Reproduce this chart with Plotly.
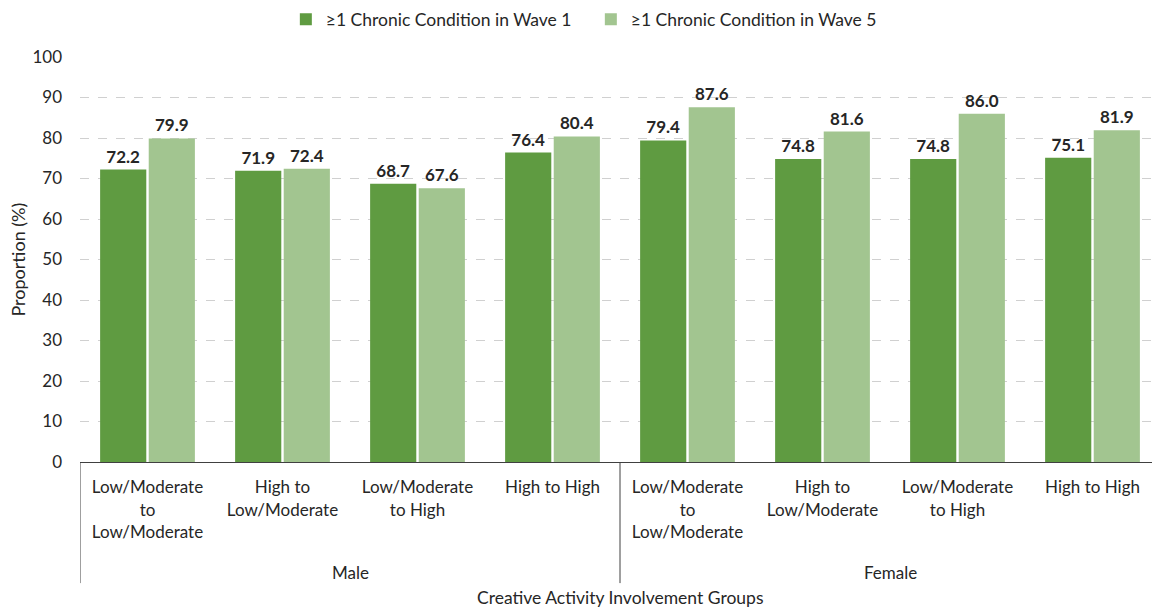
import plotly.graph_objects as go

genders = ["Male"] * 4 + ["Female"] * 4
groups = [
    "Low/Moderate<br>to<br>Low/Moderate",
    "High to<br>Low/Moderate",
    "Low/Moderate<br>to High",
    "High to High",
] * 2
wave1 = [72.2, 71.9, 68.7, 76.4, 79.4, 74.8, 74.8, 75.1]
wave5 = [79.9, 72.4, 67.6, 80.4, 87.6, 81.6, 86.0, 81.9]
series_names = ["≥1 Chronic Condition in Wave 1", "≥1 Chronic Condition in Wave 5"]
colors = ["#5f9b41", "#a2c590"]
y_title = "Proportion (%)"
x_title = "Creative Activity Involvement Groups"

FONT = "Lato"
TXT = "#262626"
xs = list(range(len(groups)))

fig = go.Figure()
for name, vals, col in zip(series_names, [wave1, wave5], colors):
    fig.add_trace(go.Bar(
        x=xs, y=vals, name=name,
        marker=dict(color=col, line=dict(width=0)),
        texttemplate="<b>%{y:.1f}</b>", textposition="outside",
        textfont=dict(family=FONT, size=17, color=TXT),
        cliponaxis=False,
    ))

# gender group labels and dividers
div_y = -0.299
boundaries = [-0.5]
for i in range(1, len(genders)):
    if genders[i] != genders[i - 1]:
        boundaries.append(i - 0.5)
boundaries.append(len(genders) - 0.5)
for b in boundaries:
    fig.add_shape(type="line", xref="x", yref="paper", x0=b, x1=b, y0=0, y1=div_y,
                  line=dict(color="#404040", width=1))
seen = []
for g in genders:
    if g not in seen:
        seen.append(g)
for g in seen:
    idx = [i for i, v in enumerate(genders) if v == g]
    fig.add_annotation(x=sum(idx) / len(idx), y=-0.272, xref="x", yref="paper",
                       text=g, showarrow=False, yanchor="middle",
                       font=dict(family=FONT, size=17, color=TXT))

fig.add_annotation(x=0.5, y=-0.335, xref="paper", yref="paper", text=x_title,
                   showarrow=False, yanchor="middle",
                   font=dict(family=FONT, size=17.5, color=TXT))
fig.add_annotation(x=-0.0583, y=0.5, xref="paper", yref="paper", text=y_title,
                   showarrow=False, textangle=-90, xanchor="center", yanchor="middle",
                   font=dict(family=FONT, size=18, color=TXT))

fig.update_layout(
    width=1152, height=600,
    margin=dict(l=72, r=0, t=49, b=146, autoexpand=False),
    paper_bgcolor="white", plot_bgcolor="white",
    barmode="group", bargap=0.28, bargroupgap=0.05,
    font=dict(family=FONT, size=17, color=TXT),
    legend=dict(orientation="h", x=0.473, xanchor="center", y=1.093, yanchor="middle",
                font=dict(family=FONT, size=17.5, color=TXT),
                itemwidth=30, entrywidth=260, traceorder="normal"),
    showlegend=True,
)
fig.update_yaxes(
    range=[0, 100], dtick=10, showgrid=True, gridcolor="#d0d0d0", griddash="dash",
    gridwidth=1, zeroline=False, showline=False, ticks="", automargin=False,
    ticklabelstandoff=17,
    tickfont=dict(family=FONT, size=17, color=TXT),
)
fig.update_xaxes(
    range=[-0.5, len(groups) - 0.5], tickvals=xs, ticktext=groups,
    showline=True, linecolor="#404040", linewidth=1, showgrid=False, zeroline=False,
    ticks="", automargin=False, ticklabelstandoff=10,
    tickfont=dict(family=FONT, size=17, color=TXT),
)
fig.write_html("out.html")
